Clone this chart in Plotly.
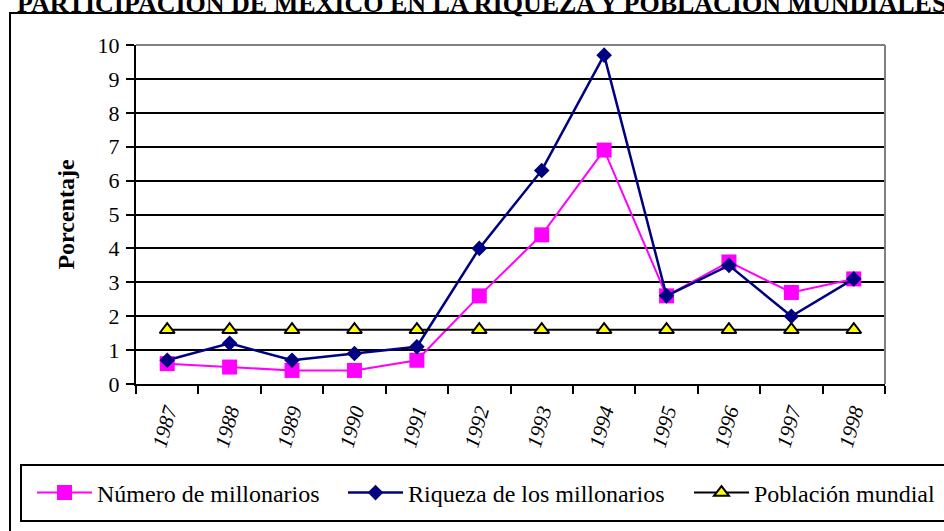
import plotly.graph_objects as go

years = ["1987", "1988", "1989", "1990", "1991", "1992", "1993", "1994", "1995", "1996", "1997", "1998"]
numero_millonarios = [0.6, 0.5, 0.4, 0.4, 0.7, 2.6, 4.4, 6.9, 2.6, 3.6, 2.7, 3.1]
riqueza_millonarios = [0.7, 1.2, 0.7, 0.9, 1.1, 4.0, 6.3, 9.7, 2.6, 3.5, 2.0, 3.1]
poblacion_mundial = [1.6, 1.6, 1.6, 1.6, 1.6, 1.6, 1.6, 1.6, 1.6, 1.6, 1.6, 1.6]
y_ticks = [0, 1, 2, 3, 4, 5, 6, 7, 8, 9, 10]

W, H = 944, 531
L, R, T, B = 136, 885, 45, 384  # plot area in px


def px(x):
    return (x - L) / (R - L)


def py(y):
    return (B - y) / (B - T)


FONT = "Liberation Serif"

fig = go.Figure()
fig.add_trace(go.Scatter(
    x=years, y=numero_millonarios, name="Número de millonarios", mode="lines+markers",
    line=dict(color="#FF00FF", width=2),
    marker=dict(symbol="square", size=15, color="#FF00FF"),
    legend="legend",
))
fig.add_trace(go.Scatter(
    x=years, y=riqueza_millonarios, name="Riqueza de los millonarios", mode="lines+markers",
    line=dict(color="#000080", width=2.5),
    marker=dict(symbol="diamond", size=12, color="#000080"),
    legend="legend2",
))
fig.add_trace(go.Scatter(
    x=years, y=poblacion_mundial, name="Población mundial", mode="lines+markers",
    line=dict(color="#000000", width=2),
    marker=dict(symbol="triangle-up", size=13, color="#FFFF00", line=dict(color="#000000", width=2)),
    legend="legend3",
))

shapes = [
    # outer frame
    dict(type="rect", xref="paper", yref="paper", x0=px(10), x1=px(1000), y0=py(600), y1=py(13),
         line=dict(color="black", width=2), layer="below"),
    # legend box
    dict(type="rect", xref="paper", yref="paper", x0=px(21), x1=px(1000), y0=py(521), y1=py(465),
         line=dict(color="black", width=2)),
    # top & right gray borders
    dict(type="line", xref="paper", yref="paper", x0=0, x1=1, y0=1, y1=1,
         line=dict(color="#808080", width=2)),
    dict(type="line", xref="paper", yref="paper", x0=1, x1=1, y0=0, y1=1,
         line=dict(color="#808080", width=2)),
]

legend_common = dict(orientation="h", xref="container", yref="container", xanchor="left",
                     yanchor="middle", font=dict(family=FONT, size=24),
                     bgcolor="rgba(0,0,0,0)", itemwidth=55)

fig.update_layout(
    width=W, height=H,
    margin=dict(l=L, r=W - R, t=T, b=H - B, autoexpand=False),
    paper_bgcolor="white", plot_bgcolor="white",
    font=dict(family=FONT, size=22, color="black"),
    xaxis=dict(type="category", range=[-0.5, 11.5], tickson="boundaries", ticks="outside",
               ticklen=8, tickwidth=2, tickcolor="black", showline=True, linecolor="black",
               linewidth=2, showgrid=False, tickangle=-74, ticklabelstandoff=5,
               tickfont=dict(family=FONT, size=21, style="italic"),
               zeroline=False, automargin=False),
    yaxis=dict(range=[0, 10], tickvals=y_ticks, ticks="outside", ticklen=8, tickwidth=2,
               tickcolor="black", showline=True, linecolor="black", linewidth=2,
               showgrid=True, gridcolor="black", gridwidth=2, zeroline=False, automargin=False,
               tickfont=dict(family=FONT, size=22), ticklabelstandoff=2,
               title=dict(text="<b>Porcentaje</b>", font=dict(family=FONT, size=24), standoff=16)),
    legend=dict(legend_common, x=32 / W, y=1 - 493 / H),
    legend2=dict(legend_common, x=343 / W, y=1 - 493 / H),
    legend3=dict(legend_common, x=689 / W, y=1 - 493 / H),
    shapes=shapes,
    annotations=[dict(
        text="<b>PARTICIPACIÓN DE MÉXICO EN LA RIQUEZA Y POBLACIÓN MUNDIALES</b>",
        xref="paper", yref="paper", x=px(481), y=py(4), xanchor="center", yanchor="middle",
        showarrow=False, font=dict(family=FONT, size=26, color="black"),
    )],
    showlegend=True,
)

fig.write_html("out.html", config={"displayModeBar": False},
               post_script="document.body.style.margin='0';")
